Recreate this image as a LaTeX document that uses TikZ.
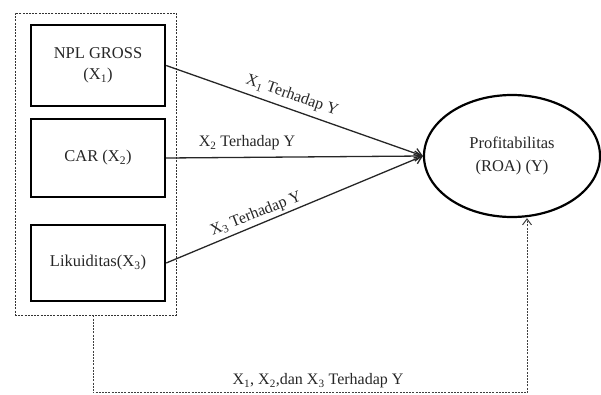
\documentclass[tikz,border=0pt]{standalone}
\usepackage{fontspec}
\setmainfont{Liberation Serif}
\usetikzlibrary{arrows.meta,shapes.geometric}
\tikzset{
  varbox/.style={draw=black, line width=2.4pt, minimum width=134pt, align=center, inner sep=0pt},
  grpbox/.style={draw=black!80, line width=0.9pt, dash pattern=on 2pt off 1.2pt},
  dashline/.style={draw=black!75, line width=1pt, dash pattern=on 2pt off 1.2pt},
  conn/.style={draw=black!85, line width=1.3pt, -{Straight Barb[length=7pt,width=10pt]}},
  lbl/.style={font=\fontsize{16}{19}\selectfont, text=black!85, inner sep=0pt},
  txt/.style={font=\fontsize{16.5}{21}\selectfont, text=black!85}
}
\begin{document}
\begin{tikzpicture}[x=1pt,y=-1pt]
\useasboundingbox (0,0) rectangle (601,394);
\node[grpbox, minimum width=161pt, minimum height=302pt, inner sep=0pt] (grp) at (95.5,164) {};
\node[varbox, minimum height=81pt, txt] (b1) at (98,65.5) {NPL GROSS\\(X\textsubscript{1})};
\node[varbox, minimum height=78pt, txt] (b2) at (98,158) {CAR (X\textsubscript{2})};
\node[varbox, minimum height=76pt, txt] (b3) at (98,263) {Likuiditas(X\textsubscript{3})};
\node[draw=black, line width=2.2pt, ellipse, minimum width=176pt, minimum height=122pt, align=center, txt, inner sep=0pt] (y) at (512,156) {Profitabilitas\\[2pt](ROA) (Y)};
\draw[conn] (b1.east) -- (y.west);
\draw[conn] (b2.east) -- (y.west);
\draw[conn] (b3.east) -- (y.west);
\node[lbl, rotate=-19] (l1) at (292,96) {X\textsubscript{1} Terhadap Y};
\node[lbl] (l2) at (247,143) {X\textsubscript{2} Terhadap Y};
\node[lbl, rotate=21.6] (l3) at (256,214) {X\textsubscript{3} Terhadap Y};
\coordinate (c1) at (93,392.8);
\coordinate (c2) at (527,392.8);
\draw[dashline] (grp.south -| c1) -- (c1) -- (c2);
\draw[dashline, -{Straight Barb[length=6pt,width=9pt]}] (c2) -- (c2 |- y.south);
\node[lbl] (l4) at (318,381) {X\textsubscript{1}, X\textsubscript{2},dan X\textsubscript{3} Terhadap Y};
\end{tikzpicture}
\end{document}
